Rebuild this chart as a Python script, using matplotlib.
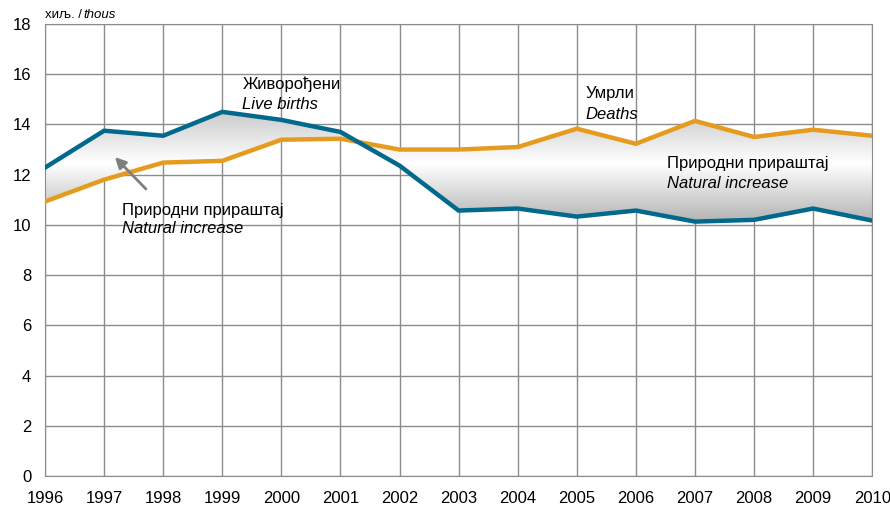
import numpy as np
import matplotlib.pyplot as plt
from matplotlib.path import Path
from matplotlib.patches import PathPatch

years = np.arange(1996, 2011)
births = [12.28, 13.75, 13.55, 14.5, 14.18, 13.7, 12.36, 10.57, 10.65, 10.33, 10.57, 10.13, 10.2, 10.65, 10.17]
deaths = [10.93, 11.8, 12.48, 12.55, 13.39, 13.43, 13.0, 13.0, 13.1, 13.83, 13.23, 14.14, 13.5, 13.79, 13.55]

plt.rcParams['font.family'] = ['Liberation Sans', 'DejaVu Sans']

fig = plt.figure(figsize=(8.9, 5.08), dpi=100)
ax = fig.add_axes([0.0506, 0.063, 0.9294, 0.8898])

# gradient fill between the two lines
verts = list(zip(years, births)) + list(zip(years[::-1], deaths[::-1]))
poly = PathPatch(Path(verts), facecolor='none', edgecolor='none')
ax.add_patch(poly)
yy = np.linspace(9.5, 15, 300)
g = np.where(yy > 12.4, 1 - 0.1 * (yy - 12.4), 1 - 0.13 * (12.4 - yy))
g = np.clip(g, 0.62, 1)
img = np.repeat(g[:, None], 2, axis=1)
im = ax.imshow(img, extent=[1996, 2010, 9.5, 15], origin='lower', aspect='auto',
               cmap='gray', vmin=0, vmax=1, zorder=1, interpolation='bilinear')
im.set_clip_path(poly)

ax.plot(years, deaths, color='#e59b1e', lw=3.2, zorder=3, solid_joinstyle='miter')
ax.plot(years, births, color='#00698c', lw=3.2, zorder=4, solid_joinstyle='miter')

ax.set_xlim(1996, 2010)
ax.set_ylim(0, 18)
ax.set_xticks(years)
ax.set_yticks(range(0, 19, 2))
ax.grid(True, color='#8c8c8c', lw=1)
ax.set_axisbelow(True)
for s in ax.spines.values():
    s.set_color('#8c8c8c')
ax.tick_params(length=0, labelsize=12, colors='black')
ax.tick_params(axis='x', pad=11)
ax.tick_params(axis='y', pad=10)

fig.text(0.0506, 0.958, 'хиљ. /', fontsize=9.5, ha='left', va='bottom')
fig.text(0.0506 + 0.0435, 0.958, 'thous', fontsize=9.5, style='italic', ha='left', va='bottom')

fs = 12
ax.text(1999.34, 15.61, 'Живорођени', fontsize=fs, va='center')
ax.text(1999.34, 14.78, 'Live births', fontsize=fs, va='center', style='italic')
ax.text(2005.14, 15.25, 'Умрли', fontsize=fs, va='center')
ax.text(2005.14, 14.38, 'Deaths', fontsize=fs, va='center', style='italic')
ax.text(1997.30, 10.59, 'Природни прираштај', fontsize=fs, va='center')
ax.text(1997.30, 9.84, 'Natural increase', fontsize=fs, va='center', style='italic')
ax.text(2006.53, 12.43, 'Природни прираштај', fontsize=fs, va='center')
ax.text(2006.53, 11.63, 'Natural increase', fontsize=fs, va='center', style='italic')

ax.annotate('', xy=(1997.15, 12.78), xytext=(1997.74, 11.35),
            arrowprops=dict(arrowstyle='-|>', color='#7f7f7f', lw=2, mutation_scale=16),
            zorder=5)

fig.savefig('out.png', dpi=100)
